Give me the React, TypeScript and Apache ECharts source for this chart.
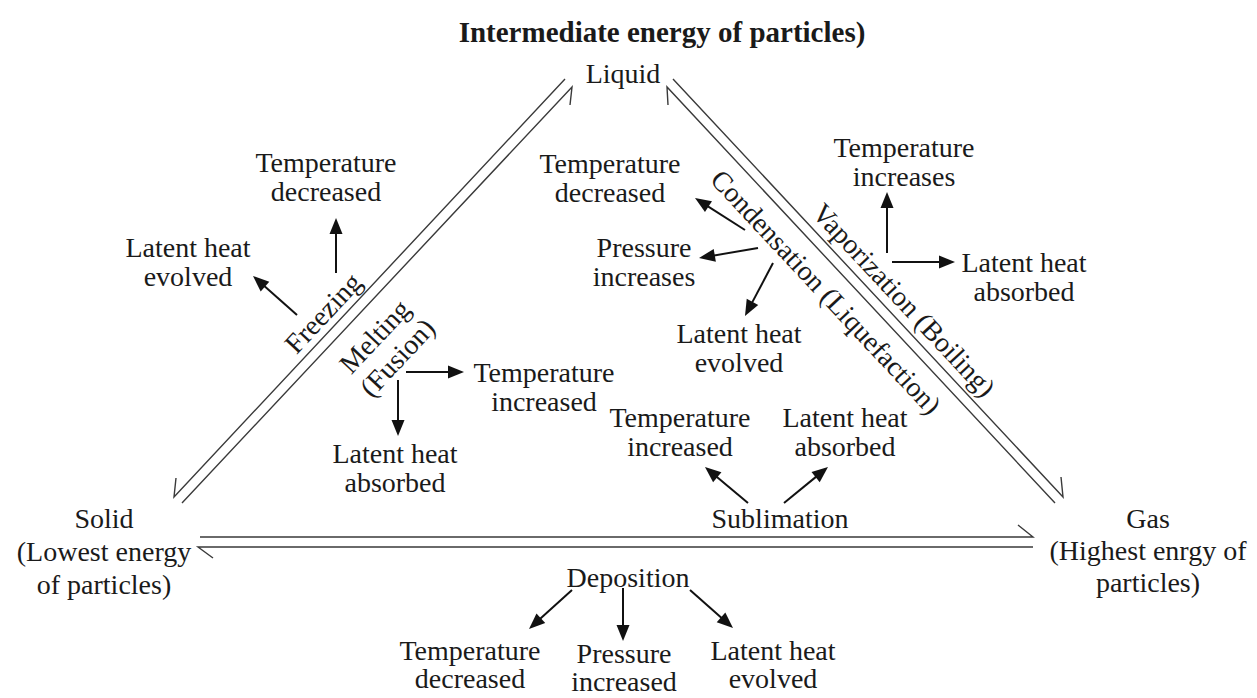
import React, { useEffect, useRef } from "react";
import * as echarts from "echarts";

// ---- Content (texts) ----
const TITLE = "Intermediate energy of particles)";
const STATES = [
  "Liquid",
  "Solid\n(Lowest energy\nof particles)",
  "Gas\n(Highest enrgy of\nparticles)",
];
const PROCESSES = [
  "Freezing",
  "Melting\n(Fusion)",
  "Condensation (Liquefaction)",
  "Vaporization (Boiling)",
  "Sublimation",
  "Deposition",
];
const FREEZING_EFFECTS = ["Temperature\ndecreased", "Latent heat\nevolved"];
const MELTING_EFFECTS = ["Temperature\nincreased", "Latent heat\nabsorbed"];
const CONDENSATION_EFFECTS = ["Temperature\ndecreased", "Pressure\nincreases", "Latent heat\nevolved"];
const VAPORIZATION_EFFECTS = ["Temperature\nincreases", "Latent heat\nabsorbed"];
const SUBLIMATION_EFFECTS = ["Temperature\nincreased", "Latent heat\nabsorbed"];
const DEPOSITION_EFFECTS = ["Temperature\ndecreased", "Pressure\nincreased", "Latent heat\nevolved"];

// ---- Layout (positions / styles) ----
const ANG = Math.atan2(418, 391);
const FONT = "'Liberation Serif', 'Times New Roman', serif";
const TEXT_COLOR = "#1a1a1a";
const FS = 28;

const STATE_LAYOUT = [
  { x: 623, y: 73, lh: 32 },
  { x: 104, y: 551, lh: 33 },
  { x: 1148, y: 550, lh: 32 },
];
const PROCESS_LAYOUT = [
  { x: 323, y: 313, r: ANG },
  { x: 386, y: 347, r: ANG },
  { x: 826, y: 292, r: -ANG },
  { x: 904, y: 300, r: -ANG },
  { x: 780, y: 518, r: 0 },
  { x: 628, y: 577, r: 0 },
];
const EFFECT_LAYOUT = {
  freezing: [[326, 177], [188, 262]],
  melting: [[544, 387], [395, 468]],
  condensation: [[610, 178], [644, 262], [739, 348]],
  vaporization: [[904, 162], [1024, 277]],
  sublimation: [[680, 432], [845, 432]],
  deposition: [[470, 664], [624, 667], [773, 664]],
};
const EFFECT_LINE_HEIGHT = 29;
const BOTTOM_LINE_HEIGHT = 28;
const ARROWS = {
  freezing: [[336, 273, 336, 218], [297, 315, 253, 276]],
  melting: [[406, 372, 464, 372], [398, 380, 398, 436]],
  condensation: [[745, 230, 695, 198], [758, 248, 699, 258], [773, 263, 745, 316]],
  vaporization: [[887, 253, 887, 192], [892, 262, 955, 262]],
  sublimation: [[748, 503, 705, 467], [784, 503, 828, 467]],
  deposition: [[572, 590, 529, 629], [623, 588, 623, 641], [690, 590, 733, 628]],
};
// double transition lines: [x1,y1,x2,y2, barbX, barbY] (barb drawn from x2,y2)
const TRANSITION_LINES = [
  [565, 79, 174, 497, 176, 478], // freezing
  [182, 503, 572, 87, 570, 105], // melting
  [673, 79, 1063, 497, 1061, 477], // vaporization
  [1055, 503, 667, 87, 668, 105], // condensation
  [200, 537, 1033, 537, 1018, 525], // sublimation
  [1033, 547, 198, 547, 213, 558], // deposition
];

function textEl(text: string, x: number, y: number, opts: any = {}) {
  return {
    type: "text",
    x,
    y,
    rotation: opts.rotation || 0,
    style: {
      text,
      x: 0,
      y: 0,
      fill: TEXT_COLOR,
      fontFamily: FONT,
      fontSize: opts.fontSize || FS,
      fontWeight: opts.fontWeight || "normal",
      align: "center",
      verticalAlign: "middle",
      lineHeight: opts.lineHeight || 31,
    },
  };
}

function arrowEls(a: number[]) {
  const [x1, y1, x2, y2] = a;
  const dx = x2 - x1;
  const dy = y2 - y1;
  const L = Math.hypot(dx, dy);
  const ux = dx / L;
  const uy = dy / L;
  const hl = 16;
  const hw = 6.5;
  const bx = x2 - ux * hl;
  const by = y2 - uy * hl;
  return [
    {
      type: "line",
      shape: { x1, y1, x2: bx + ux * 2, y2: by + uy * 2 },
      style: { stroke: "#111", lineWidth: 2 },
    },
    {
      type: "polygon",
      shape: {
        points: [
          [x2, y2],
          [bx - uy * hw, by + ux * hw],
          [bx + uy * hw, by - ux * hw],
        ],
      },
      style: { fill: "#111" },
    },
  ];
}

function buildGraphic() {
  const els: any[] = [];
  els.push(textEl(TITLE, 662, 32, { fontWeight: "bold", fontSize: 29 }));
  STATES.forEach((s, i) => {
    const p = STATE_LAYOUT[i];
    els.push(textEl(s, p.x, p.y, { lineHeight: p.lh }));
  });
  PROCESSES.forEach((s, i) => {
    const p = PROCESS_LAYOUT[i];
    els.push(textEl(s, p.x, p.y, { rotation: p.r, lineHeight: 31 }));
  });
  const groups: [string[], number[][], number[][], number][] = [
    [FREEZING_EFFECTS, EFFECT_LAYOUT.freezing, ARROWS.freezing, EFFECT_LINE_HEIGHT],
    [MELTING_EFFECTS, EFFECT_LAYOUT.melting, ARROWS.melting, EFFECT_LINE_HEIGHT],
    [CONDENSATION_EFFECTS, EFFECT_LAYOUT.condensation, ARROWS.condensation, EFFECT_LINE_HEIGHT],
    [VAPORIZATION_EFFECTS, EFFECT_LAYOUT.vaporization, ARROWS.vaporization, EFFECT_LINE_HEIGHT],
    [SUBLIMATION_EFFECTS, EFFECT_LAYOUT.sublimation, ARROWS.sublimation, EFFECT_LINE_HEIGHT],
    [DEPOSITION_EFFECTS, EFFECT_LAYOUT.deposition, ARROWS.deposition, BOTTOM_LINE_HEIGHT],
  ];
  groups.forEach(([texts, pos, arrows, lh]) => {
    texts.forEach((t, i) => els.push(textEl(t, pos[i][0], pos[i][1], { lineHeight: lh })));
    arrows.forEach((a) => els.push(...arrowEls(a)));
  });
  TRANSITION_LINES.forEach(([x1, y1, x2, y2, bx, by]) => {
    els.push({
      type: "polyline",
      shape: { points: [[x1, y1], [x2, y2], [bx, by]] },
      style: { stroke: "#3a3a3a", lineWidth: 1.4, fill: null, lineJoin: "miter" },
    });
  });
  return els;
}

export default function App() {
  const ref = useRef<HTMLDivElement>(null);
  useEffect(() => {
    if (!ref.current) return;
    const chart = echarts.init(ref.current, null, { renderer: "svg" });
    chart.setOption({
      animation: false,
      backgroundColor: "#ffffff",
      graphic: { elements: buildGraphic() },
    });
    return () => chart.dispose();
  }, []);
  return (
    <div
      ref={ref}
      style={{ position: "absolute", left: 0, top: 0, width: 1257, height: 698, background: "#fff" }}
    />
  );
}
